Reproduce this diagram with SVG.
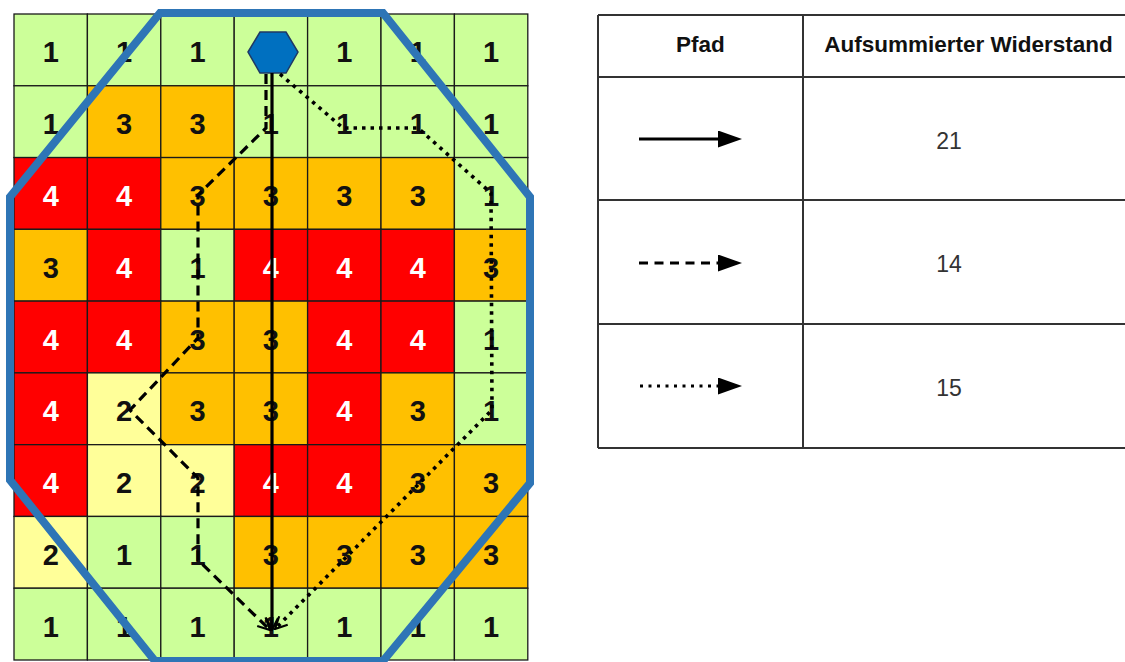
<svg xmlns="http://www.w3.org/2000/svg" width="1125" height="662" viewBox="0 0 1125 662">
<style>
.c{stroke:#1a1a1a;stroke-width:1.3}
.g{fill:#CCFF99}.o{fill:#FFC000}.r{fill:#FF0000}.y{fill:#FFFF99}
.n{font-family:"Liberation Sans",Arial,sans-serif;font-weight:bold;font-size:29px;text-anchor:middle;fill:#111}
.w{fill:#fff}
.p{fill:none;stroke:#000;stroke-width:3.2}
.ds{stroke-dasharray:10 6}
.dt{stroke-dasharray:3.5 5;stroke-width:3.6}
.tl{stroke:#333;stroke-width:2;fill:none}
.th{font-family:"Liberation Sans",Arial,sans-serif;font-weight:bold;font-size:22.5px;text-anchor:middle;fill:#111}
.tv{font-family:"Liberation Sans",Arial,sans-serif;font-size:23px;text-anchor:middle;fill:#333}
</style>
<defs>
<marker id="open" viewBox="0 0 14 14" refX="13" refY="7" markerWidth="14" markerHeight="14" markerUnits="userSpaceOnUse" orient="auto">
<path d="M1,1 L13,7 L1,13" fill="none" stroke="#000" stroke-width="2.2"/>
</marker>
<marker id="tri" viewBox="0 0 24 17" refX="12" refY="8.5" markerWidth="24" markerHeight="17" markerUnits="userSpaceOnUse" orient="auto">
<path d="M0,0 L24,8.5 L0,17 Z" fill="#000"/>
</marker>
</defs>
<rect width="1125" height="662" fill="#fff"/>
<g id="grid">
<g id="cell-0-0"><rect class="c g" x="14" y="14" width="73.4" height="71.78"/><text class="n" x="50.7" y="62.4">1</text></g>
<g id="cell-0-1"><rect class="c g" x="87.4" y="14" width="73.4" height="71.78"/><text class="n" x="124.1" y="62.4">1</text></g>
<g id="cell-0-2"><rect class="c g" x="160.8" y="14" width="73.4" height="71.78"/><text class="n" x="197.5" y="62.4">1</text></g>
<g id="cell-0-3"><rect class="c g" x="234.2" y="14" width="73.4" height="71.78"/></g>
<g id="cell-0-4"><rect class="c g" x="307.6" y="14" width="73.4" height="71.78"/><text class="n" x="344.3" y="62.4">1</text></g>
<g id="cell-0-5"><rect class="c g" x="381" y="14" width="73.4" height="71.78"/><text class="n" x="417.7" y="62.4">1</text></g>
<g id="cell-0-6"><rect class="c g" x="454.4" y="14" width="73.4" height="71.78"/><text class="n" x="491.1" y="62.4">1</text></g>

<g id="cell-1-0"><rect class="c g" x="14" y="85.78" width="73.4" height="71.78"/><text class="n" x="50.7" y="134.2">1</text></g>
<g id="cell-1-1"><rect class="c o" x="87.4" y="85.78" width="73.4" height="71.78"/><text class="n" x="124.1" y="134.2">3</text></g>
<g id="cell-1-2"><rect class="c o" x="160.8" y="85.78" width="73.4" height="71.78"/><text class="n" x="197.5" y="134.2">3</text></g>
<g id="cell-1-3"><rect class="c g" x="234.2" y="85.78" width="73.4" height="71.78"/><text class="n" x="270.9" y="134.2">1</text></g>
<g id="cell-1-4"><rect class="c g" x="307.6" y="85.78" width="73.4" height="71.78"/><text class="n" x="344.3" y="134.2">1</text></g>
<g id="cell-1-5"><rect class="c g" x="381" y="85.78" width="73.4" height="71.78"/><text class="n" x="417.7" y="134.2">1</text></g>
<g id="cell-1-6"><rect class="c g" x="454.4" y="85.78" width="73.4" height="71.78"/><text class="n" x="491.1" y="134.2">1</text></g>

<g id="cell-2-0"><rect class="c r" x="14" y="157.56" width="73.4" height="71.78"/><text class="n w" x="50.7" y="205.9">4</text></g>
<g id="cell-2-1"><rect class="c r" x="87.4" y="157.56" width="73.4" height="71.78"/><text class="n w" x="124.1" y="205.9">4</text></g>
<g id="cell-2-2"><rect class="c o" x="160.8" y="157.56" width="73.4" height="71.78"/><text class="n" x="197.5" y="205.9">3</text></g>
<g id="cell-2-3"><rect class="c o" x="234.2" y="157.56" width="73.4" height="71.78"/><text class="n" x="270.9" y="205.9">3</text></g>
<g id="cell-2-4"><rect class="c o" x="307.6" y="157.56" width="73.4" height="71.78"/><text class="n" x="344.3" y="205.9">3</text></g>
<g id="cell-2-5"><rect class="c o" x="381" y="157.56" width="73.4" height="71.78"/><text class="n" x="417.7" y="205.9">3</text></g>
<g id="cell-2-6"><rect class="c g" x="454.4" y="157.56" width="73.4" height="71.78"/><text class="n" x="491.1" y="205.9">1</text></g>

<g id="cell-3-0"><rect class="c o" x="14" y="229.33" width="73.4" height="71.78"/><text class="n" x="50.7" y="277.7">3</text></g>
<g id="cell-3-1"><rect class="c r" x="87.4" y="229.33" width="73.4" height="71.78"/><text class="n w" x="124.1" y="277.7">4</text></g>
<g id="cell-3-2"><rect class="c g" x="160.8" y="229.33" width="73.4" height="71.78"/><text class="n" x="197.5" y="277.7">1</text></g>
<g id="cell-3-3"><rect class="c r" x="234.2" y="229.33" width="73.4" height="71.78"/><text class="n w" x="270.9" y="277.7">4</text></g>
<g id="cell-3-4"><rect class="c r" x="307.6" y="229.33" width="73.4" height="71.78"/><text class="n w" x="344.3" y="277.7">4</text></g>
<g id="cell-3-5"><rect class="c r" x="381" y="229.33" width="73.4" height="71.78"/><text class="n w" x="417.7" y="277.7">4</text></g>
<g id="cell-3-6"><rect class="c o" x="454.4" y="229.33" width="73.4" height="71.78"/><text class="n" x="491.1" y="277.7">3</text></g>

<g id="cell-4-0"><rect class="c r" x="14" y="301.11" width="73.4" height="71.78"/><text class="n w" x="50.7" y="349.5">4</text></g>
<g id="cell-4-1"><rect class="c r" x="87.4" y="301.11" width="73.4" height="71.78"/><text class="n w" x="124.1" y="349.5">4</text></g>
<g id="cell-4-2"><rect class="c o" x="160.8" y="301.11" width="73.4" height="71.78"/><text class="n" x="197.5" y="349.5">3</text></g>
<g id="cell-4-3"><rect class="c o" x="234.2" y="301.11" width="73.4" height="71.78"/><text class="n" x="270.9" y="349.5">3</text></g>
<g id="cell-4-4"><rect class="c r" x="307.6" y="301.11" width="73.4" height="71.78"/><text class="n w" x="344.3" y="349.5">4</text></g>
<g id="cell-4-5"><rect class="c r" x="381" y="301.11" width="73.4" height="71.78"/><text class="n w" x="417.7" y="349.5">4</text></g>
<g id="cell-4-6"><rect class="c g" x="454.4" y="301.11" width="73.4" height="71.78"/><text class="n" x="491.1" y="349.5">1</text></g>

<g id="cell-5-0"><rect class="c r" x="14" y="372.89" width="73.4" height="71.78"/><text class="n w" x="50.7" y="421.3">4</text></g>
<g id="cell-5-1"><rect class="c y" x="87.4" y="372.89" width="73.4" height="71.78"/><text class="n" x="124.1" y="421.3">2</text></g>
<g id="cell-5-2"><rect class="c o" x="160.8" y="372.89" width="73.4" height="71.78"/><text class="n" x="197.5" y="421.3">3</text></g>
<g id="cell-5-3"><rect class="c o" x="234.2" y="372.89" width="73.4" height="71.78"/><text class="n" x="270.9" y="421.3">3</text></g>
<g id="cell-5-4"><rect class="c r" x="307.6" y="372.89" width="73.4" height="71.78"/><text class="n w" x="344.3" y="421.3">4</text></g>
<g id="cell-5-5"><rect class="c o" x="381" y="372.89" width="73.4" height="71.78"/><text class="n" x="417.7" y="421.3">3</text></g>
<g id="cell-5-6"><rect class="c g" x="454.4" y="372.89" width="73.4" height="71.78"/><text class="n" x="491.1" y="421.3">1</text></g>

<g id="cell-6-0"><rect class="c r" x="14" y="444.67" width="73.4" height="71.78"/><text class="n w" x="50.7" y="493.1">4</text></g>
<g id="cell-6-1"><rect class="c y" x="87.4" y="444.67" width="73.4" height="71.78"/><text class="n" x="124.1" y="493.1">2</text></g>
<g id="cell-6-2"><rect class="c y" x="160.8" y="444.67" width="73.4" height="71.78"/><text class="n" x="197.5" y="493.1">2</text></g>
<g id="cell-6-3"><rect class="c r" x="234.2" y="444.67" width="73.4" height="71.78"/><text class="n w" x="270.9" y="493.1">4</text></g>
<g id="cell-6-4"><rect class="c r" x="307.6" y="444.67" width="73.4" height="71.78"/><text class="n w" x="344.3" y="493.1">4</text></g>
<g id="cell-6-5"><rect class="c o" x="381" y="444.67" width="73.4" height="71.78"/><text class="n" x="417.7" y="493.1">3</text></g>
<g id="cell-6-6"><rect class="c o" x="454.4" y="444.67" width="73.4" height="71.78"/><text class="n" x="491.1" y="493.1">3</text></g>

<g id="cell-7-0"><rect class="c y" x="14" y="516.44" width="73.4" height="71.78"/><text class="n" x="50.7" y="564.8">2</text></g>
<g id="cell-7-1"><rect class="c g" x="87.4" y="516.44" width="73.4" height="71.78"/><text class="n" x="124.1" y="564.8">1</text></g>
<g id="cell-7-2"><rect class="c g" x="160.8" y="516.44" width="73.4" height="71.78"/><text class="n" x="197.5" y="564.8">1</text></g>
<g id="cell-7-3"><rect class="c o" x="234.2" y="516.44" width="73.4" height="71.78"/><text class="n" x="270.9" y="564.8">3</text></g>
<g id="cell-7-4"><rect class="c o" x="307.6" y="516.44" width="73.4" height="71.78"/><text class="n" x="344.3" y="564.8">3</text></g>
<g id="cell-7-5"><rect class="c o" x="381" y="516.44" width="73.4" height="71.78"/><text class="n" x="417.7" y="564.8">3</text></g>
<g id="cell-7-6"><rect class="c o" x="454.4" y="516.44" width="73.4" height="71.78"/><text class="n" x="491.1" y="564.8">3</text></g>

<g id="cell-8-0"><rect class="c g" x="14" y="588.22" width="73.4" height="71.78"/><text class="n" x="50.7" y="636.6">1</text></g>
<g id="cell-8-1"><rect class="c g" x="87.4" y="588.22" width="73.4" height="71.78"/><text class="n" x="124.1" y="636.6">1</text></g>
<g id="cell-8-2"><rect class="c g" x="160.8" y="588.22" width="73.4" height="71.78"/><text class="n" x="197.5" y="636.6">1</text></g>
<g id="cell-8-3"><rect class="c g" x="234.2" y="588.22" width="73.4" height="71.78"/><text class="n" x="270.9" y="636.6">1</text></g>
<g id="cell-8-4"><rect class="c g" x="307.6" y="588.22" width="73.4" height="71.78"/><text class="n" x="344.3" y="636.6">1</text></g>
<g id="cell-8-5"><rect class="c g" x="381" y="588.22" width="73.4" height="71.78"/><text class="n" x="417.7" y="636.6">1</text></g>
<g id="cell-8-6"><rect class="c g" x="454.4" y="588.22" width="73.4" height="71.78"/><text class="n" x="491.1" y="636.6">1</text></g>
</g>
<g id="boundary">
<polygon points="160,13 383,13 530,197 530,483 383,661 155,661 10,480 10,197" fill="none" stroke="#2E75B6" stroke-width="8" stroke-linejoin="miter"/>
</g>
<g id="start">
<polygon points="248,52 260,32 286,32 298,52 286,73 260,73" fill="#0070C0" stroke="#1F3864" stroke-width="1.5"/>
</g>
<g id="connectors">
<path class="p" d="M272,73 L272,630" marker-end="url(#open)"/>
<path class="p ds" d="M266,74 L266,128 L198,195 L198,338 L130,410 L198,478 L198,560 L270,630" marker-end="url(#open)"/>
<path class="p dt" d="M280,74 L343,128 L418,128 L491,193 L492,410 L275,629" marker-end="url(#open)"/>
</g>
<g id="table">
<line class="tl" x1="598" y1="15" x2="1125" y2="15"/>
<line class="tl" x1="598" y1="77" x2="1125" y2="77"/>
<line class="tl" x1="598" y1="200" x2="1125" y2="200"/>
<line class="tl" x1="598" y1="324" x2="1125" y2="324"/>
<line class="tl" x1="598" y1="448" x2="1125" y2="448"/>
<line class="tl" x1="598" y1="15" x2="598" y2="448"/>
<line class="tl" x1="803" y1="15" x2="803" y2="448"/>
<text class="th" x="700.5" y="52">Pfad</text>
<text class="th" x="968.5" y="52">Aufsummierter Widerstand</text>
<line x1="639" y1="139" x2="730" y2="139" stroke="#000" stroke-width="3" marker-end="url(#tri)"/>
<text class="tv" x="949" y="149">21</text>
<line x1="639" y1="263" x2="730" y2="263" stroke="#000" stroke-width="3" stroke-dasharray="9 6.5" marker-end="url(#tri)"/>
<text class="tv" x="949" y="272">14</text>
<line x1="640" y1="386" x2="730" y2="386" stroke="#000" stroke-width="3" stroke-dasharray="3 5.5" marker-end="url(#tri)"/>
<text class="tv" x="949" y="396">15</text>
</g>
</svg>
